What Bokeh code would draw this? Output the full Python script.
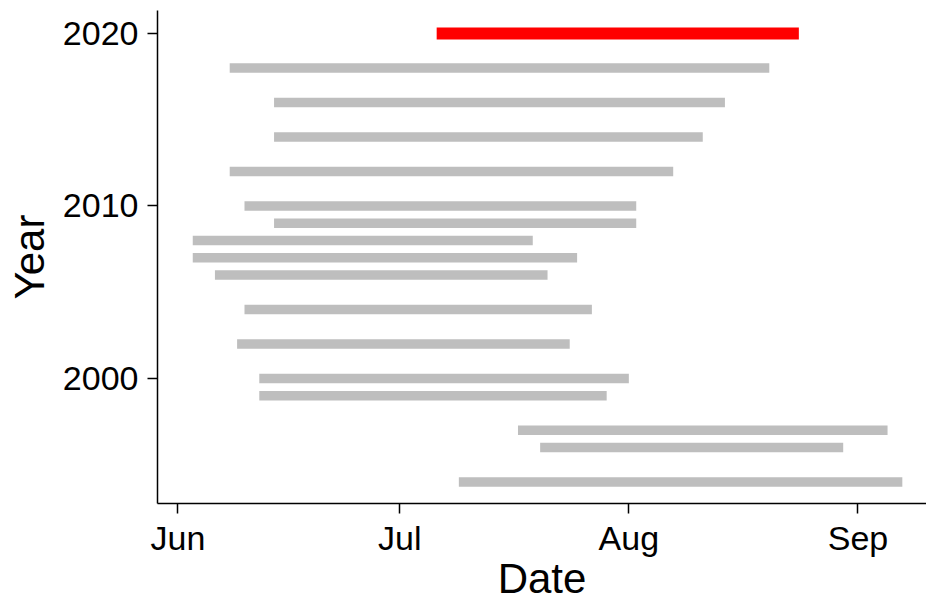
import pandas as pd
from bokeh.plotting import figure
from bokeh.models import Range1d, FixedTicker, DatetimeTickFormatter, ColumnDataSource
from bokeh.embed import file_html
from bokeh.resources import INLINE

# ---- data ----
years = [2020, 2018, 2016, 2014, 2012, 2010, 2009, 2008, 2007, 2006,
         2004, 2002, 2000, 1999, 1997, 1996, 1994]
start_md = ["07-06", "06-08", "06-14", "06-14", "06-08", "06-10", "06-14", "06-03", "06-03", "06-06",
            "06-10", "06-09", "06-12", "06-12", "07-17", "07-20", "07-09"]
end_md = ["08-24", "08-20", "08-14", "08-11", "08-07", "08-02", "08-02", "07-19", "07-25", "07-21",
          "07-27", "07-24", "08-01", "07-29", "09-05", "08-30", "09-07"]
highlight_year = 2020
x_tick_dates = ["06-01", "07-01", "08-01", "09-01"]
y_ticks = [2000, 2010, 2020]
x_title = "Date"
y_title = "Year"

REF_YEAR = 2020  # common year so all seasons share one date axis


def to_dt(md):
    return pd.Timestamp(f"{REF_YEAR}-{md}")


starts = [to_dt(s) for s in start_md]
ends = [to_dt(e) for e in end_md]

grey = dict(x0=[], x1=[], y=[])
red = dict(x0=[], x1=[], y=[])
for y, s, e in zip(years, starts, ends):
    d = red if y == highlight_year else grey
    d["x0"].append(s)
    d["x1"].append(e)
    d["y"].append(y)

jun1 = to_dt("06-01")
day = pd.Timedelta(days=1)
x_start = jun1 - 2.77 * day
x_end = jun1 + 101.27 * day

p = figure(width=926, height=605, output_backend="svg", toolbar_location=None,
           x_axis_type="datetime",
           x_range=Range1d(x_start, x_end), y_range=Range1d(1992.754, 2021.333),
           min_border_left=157, min_border_right=0, min_border_top=10, min_border_bottom=102)

p.segment(x0="x0", y0="y", x1="x1", y1="y", source=ColumnDataSource(grey),
          line_color="#BEBEBE", line_width=9.5, line_cap="butt")
p.segment(x0="x0", y0="y", x1="x1", y1="y", source=ColumnDataSource(red),
          line_color="#FF0000", line_width=12, line_cap="butt")

p.xaxis.ticker = FixedTicker(ticks=[to_dt(t).value / 1e6 for t in x_tick_dates])
p.xaxis.formatter = DatetimeTickFormatter(days="%b", months="%b", years="%b")
p.yaxis.ticker = FixedTicker(ticks=y_ticks)

p.xaxis.axis_label = x_title
p.yaxis.axis_label = y_title

for ax in (p.xaxis, p.yaxis):
    ax.axis_line_color = "black"
    ax.axis_line_width = 1.5
    ax.major_tick_line_color = "black"
    ax.major_tick_line_width = 1.5
    ax.major_tick_out = 10
    ax.major_tick_in = 0
    ax.minor_tick_line_color = None
    ax.major_label_text_font = "Liberation Sans"
    ax.major_label_text_font_size = "34px"
    ax.major_label_text_color = "black"
    ax.axis_label_text_font = "Liberation Sans"
    ax.axis_label_text_font_size = "42px"
    ax.axis_label_text_font_style = "normal"
    ax.axis_label_text_color = "black"

p.xaxis.major_label_standoff = 5
p.xaxis.axis_label_standoff = -5
p.yaxis.major_label_standoff = 9
p.yaxis.axis_label_standoff = 7

p.xgrid.grid_line_color = None
p.ygrid.grid_line_color = None
p.outline_line_color = None
p.background_fill_color = "white"
p.border_fill_color = "white"

open("out.html", "w").write(file_html(p, INLINE))
